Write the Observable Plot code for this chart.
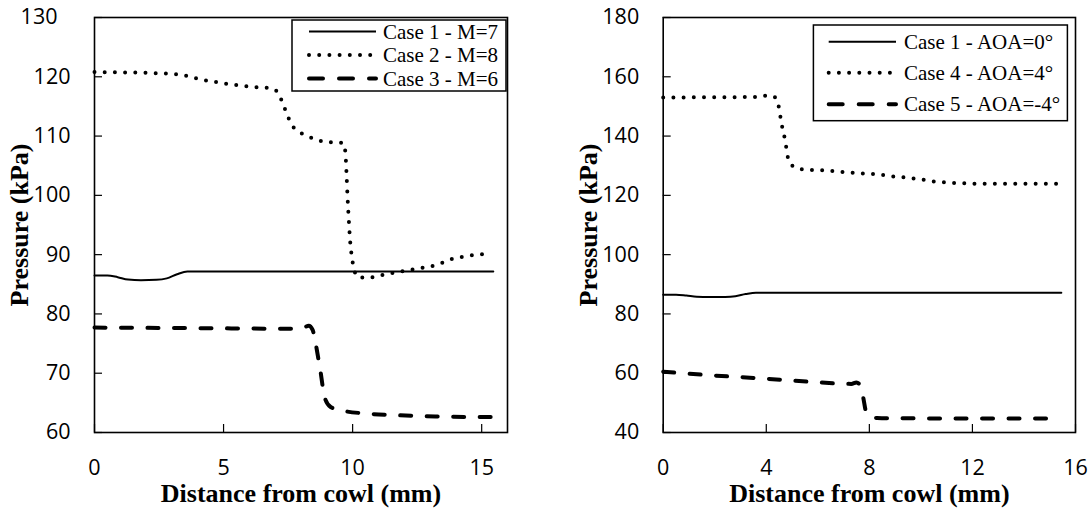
<!DOCTYPE html>
<html>
<head>
<meta charset="utf-8">
<script src="https://cdn.jsdelivr.net/npm/d3@7"></script>
<script src="https://cdn.jsdelivr.net/npm/@observablehq/plot@0.6"></script>
<style>
  html, body { margin: 0; padding: 0; background: #fff; }
  #wrap { display: flex; width: 1092px; height: 512px; }
  #wrap svg { display: block; }
</style>
</head>
<body>
<div id="wrap"></div>
<script>
// ---------- data ----------
const case1X = [0, 0.5, 0.9, 1.3, 1.8, 2.4, 2.8, 3.2, 3.6, 4.5, 15.45];
const case1Y = [86.5, 86.5, 86.2, 85.8, 85.7, 85.75, 86.0, 86.7, 87.15, 87.15, 87.15];

const case2X = [0, 1.6, 2.4, 3.2, 3.65, 4.05, 4.45, 4.85, 5.3, 5.7, 6.1, 6.5, 6.9, 7.15, 7.3, 7.45, 7.6, 7.9, 8.2, 8.6, 9.0, 9.4, 9.65, 9.72, 9.76, 9.8, 9.85, 9.9, 9.97, 10.06, 10.2, 10.6, 11.0, 11.4, 11.8, 12.2, 12.6, 13.0, 13.4, 13.8, 14.2, 14.65, 15.4];
const case2Y = [120.8, 120.7, 120.6, 120.4, 120.1, 119.6, 119.3, 119.0, 118.7, 118.5, 118.3, 118.2, 118.0, 117.0, 115.4, 113.8, 112.2, 110.8, 110.1, 109.4, 109.0, 108.9, 108.8, 107.2, 104, 100, 96, 92.5, 89.6, 87.5, 86.2, 86.1, 86.4, 86.8, 87.1, 87.4, 87.7, 88.0, 88.5, 89.2, 89.6, 89.9, 90.2];

const case3X = [0, 4, 7.8, 8.1, 8.3, 8.45, 8.55, 8.65, 8.75, 8.85, 8.95, 9.15, 9.5, 10.5, 11.8, 13.2, 15.4];
const case3Y = [77.7, 77.6, 77.5, 77.7, 78.0, 77.3, 75.5, 73, 70.5, 67.5, 65.5, 64.3, 63.8, 63.2, 62.9, 62.7, 62.6];

const case4X = [0, 2, 3.7, 4.05, 4.35, 4.5, 4.56, 4.63, 4.72, 4.79, 4.86, 5.1, 5.5, 6.3, 7.1, 7.9, 8.4, 8.8, 9.2, 9.6, 10.0, 10.4, 10.8, 11.2, 11.6, 12.0, 13.0, 14.0, 15.35];
const case4Y = [153, 153.1, 153.2, 153.7, 153.0, 149.2, 145.9, 142.5, 139.1, 135.4, 132.0, 129.5, 128.7, 128.4, 127.8, 127.3, 127.0, 126.5, 126.2, 125.8, 125.4, 124.8, 124.5, 124.2, 124.1, 123.9, 123.9, 123.9, 123.9];

const case5X = [0, 2, 3.9, 5.7, 7.3, 7.5, 7.62, 7.7, 7.78, 7.87, 8.0, 8.3, 9.0, 15.43];
const case5Y = [60.5, 59.2, 58.2, 57.1, 56.4, 56.9, 56.2, 54.7, 51, 47, 45.5, 44.9, 44.8, 44.7];

const xTicksLeft = [0, 5, 10, 15];
const yTicksLeft = [60, 70, 80, 90, 100, 110, 120, 130];
const xTicksRight = [0, 4, 8, 12, 16];
const yTicksRight = [40, 60, 80, 100, 120, 140, 160, 180];

const legendLeft = ["Case 1 - M=7", "Case 2 - M=8", "Case 3 - M=6"];
const legendRight = ["Case 1 - AOA=0°", "Case 4 - AOA=4°", "Case 5 - AOA=-4°"];

const xLabel = "Distance from cowl (mm)";
const yLabel = "Pressure (kPa)";

// ---------- styles ----------
const styles = {
  solid:  {stroke: "black", strokeWidth: 2},
  dotted: {stroke: "black", strokeWidth: 4, strokeDasharray: "0 10.2", strokeLinecap: "round"},
  dashed: {stroke: "black", strokeWidth: 4, strokeDasharray: "11 15.5", strokeLinecap: "round"}
};
const toRows = (xs, ys) => xs.map((x, i) => ({x, y: ys[i]}));

const tickFont = "Open Sans";
const serif = "Liberation Serif";

function panel({series, xDomain, yDomain, xTicks, yTicks, marginLeft, marginRight, legend, shiftTopLabel}) {
  const W = 546, H = 512, mt = 17, mb = 80;
  const plotW = W - marginLeft - marginRight;
  const plotH = H - mt - mb;
  const topTick = yTicks[yTicks.length - 1];
  const mainYTicks = shiftTopLabel ? yTicks.slice(0, -1) : yTicks;
  const svg = Plot.plot({
    width: W, height: H,
    marginLeft, marginRight, marginTop: mt, marginBottom: mb,
    style: {fontFamily: tickFont, color: "black", background: "white"},
    x: {domain: xDomain},
    y: {domain: yDomain},
    marks: [
      Plot.tickX(xTicks, {x: d => d, stroke: "black", strokeWidth: 1.2, insetTop: plotH - 8}),
      Plot.tickY(yTicks, {y: d => d, stroke: "black", strokeWidth: 1.2, insetRight: plotW - 8}),
      Plot.axisX({ticks: xTicks, tickSize: 0, tickPadding: 27, label: null, fontSize: 21.5, fontFamily: tickFont}),
      Plot.axisY({ticks: mainYTicks, tickSize: 0, tickPadding: 24, label: null, fontSize: 21.5, fontFamily: tickFont}),
      shiftTopLabel ? Plot.axisY({ticks: [topTick], tickSize: 0, tickPadding: 37, label: null, fontSize: 21.5, fontFamily: tickFont}) : null,
      ...series.map(s => Plot.line(s.data, {x: "x", y: "y", curve: "monotone-x", ...styles[s.style]})),
      Plot.frame({stroke: "black", strokeWidth: 1.6}),
      Plot.text([xLabel], {frameAnchor: "bottom", lineAnchor: "middle", textAnchor: "middle", dy: 61, fontSize: 26, fontWeight: "bold", fontFamily: serif, fill: "black"}),
      Plot.text([yLabel], {frameAnchor: "left", lineAnchor: "middle", textAnchor: "middle", dx: -75, rotate: -90, fontSize: 26, fontWeight: "bold", fontFamily: serif, fill: "black"})
    ]
  });
  // legend box
  const g = d3.select(svg).append("g");
  const L = legend;
  g.append("rect").attr("x", L.x0).attr("y", L.y0).attr("width", L.x1 - L.x0).attr("height", L.y1 - L.y0)
    .attr("fill", "white").attr("stroke", "black").attr("stroke-width", 1.5);
  series.forEach((s, i) => {
    const st = styles[s.style];
    const y = L.rows[i];
    g.append("line").attr("x1", L.lx0).attr("x2", L.lx1).attr("y1", y).attr("y2", y)
      .attr("stroke", st.stroke).attr("stroke-width", st.strokeWidth)
      .attr("stroke-dasharray", s.style === "dashed" ? "14 16" : (st.strokeDasharray || null))
      .attr("stroke-linecap", st.strokeLinecap || null);
    g.append("text").attr("x", L.tx).attr("y", y).attr("dy", "0.34em")
      .attr("text-anchor", "start")
      .attr("font-family", serif).attr("font-size", 21).attr("fill", "black").text(s.label);
  });
  return svg;
}

const wrap = document.getElementById("wrap");
wrap.appendChild(panel({
  series: [
    {data: toRows(case1X, case1Y), style: "solid", label: legendLeft[0]},
    {data: toRows(case2X, case2Y), style: "dotted", label: legendLeft[1]},
    {data: toRows(case3X, case3Y), style: "dashed", label: legendLeft[2]}
  ],
  xDomain: [0, 16], yDomain: [60, 130], xTicks: xTicksLeft, yTicks: yTicksLeft,
  marginLeft: 94, marginRight: 39, shiftTopLabel: true,
  legend: {x0: 292, x1: 506, y0: 20, y1: 91, rows: [31.5, 55, 78.5], lx0: 309, lx1: 376, tx: 383}
}));
wrap.appendChild(panel({
  series: [
    {data: toRows(case1X, case1Y), style: "solid", label: legendRight[0]},
    {data: toRows(case4X, case4Y), style: "dotted", label: legendRight[1]},
    {data: toRows(case5X, case5Y), style: "dashed", label: legendRight[2]}
  ],
  xDomain: [0, 16], yDomain: [40, 180], xTicks: xTicksRight, yTicks: yTicksRight,
  marginLeft: 116.7, marginRight: 17, shiftTopLabel: false,
  legend: {x0: 267.4, x1: 521.4, y0: 25, y1: 120.7, rows: [41.7, 72.7, 104.3], lx0: 282.7, lx1: 350, tx: 358}
}));
</script>
</body>
</html>
